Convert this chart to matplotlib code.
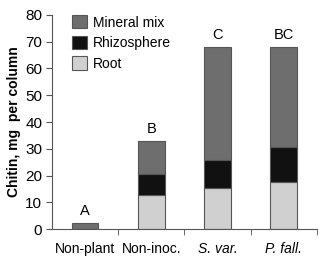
import matplotlib
matplotlib.use("Agg")
import matplotlib.pyplot as plt
import numpy as np

categories = ["Non-plant", "Non-inoc.", "S. var.", "P. fall."]
root = [0.0, 12.7, 15.5, 17.7]
rhizosphere = [0.0, 7.9, 10.5, 13.0]
mineral = [2.3, 12.2, 42.0, 37.3]
letters = ["A", "B", "C", "BC"]

plt.rcParams['font.family'] = ['Liberation Sans', 'DejaVu Sans']

fig = plt.figure(figsize=(3.2, 2.58), dpi=100)
ax = fig.add_axes([0.1625, 0.112, 0.8275, 0.83])

x = np.arange(len(categories))
w = 0.4
ec = "#555555"
b1 = ax.bar(x, root, w, color="#d0d0d0", edgecolor=ec, linewidth=0.8, label="Root")
b2 = ax.bar(x, rhizosphere, w, bottom=root, color="#111111", edgecolor=ec, linewidth=0.8, label="Rhizosphere")
bot2 = np.array(root) + np.array(rhizosphere)
b3 = ax.bar(x, mineral, w, bottom=bot2, color="#6e6e6e", edgecolor=ec, linewidth=0.8, label="Mineral mix")

tot = bot2 + np.array(mineral)
for xi, t, l in zip(x, tot, letters):
    ax.text(xi, t + 1.8, l, ha="center", va="bottom", fontsize=10.5)

ax.set_xlim(-0.5, 3.5)
ax.set_ylim(0, 80)
ax.set_yticks(range(0, 81, 10))
ax.set_xticks(x)
ax.set_xticklabels(categories, fontsize=10)
for lab in ax.get_xticklabels()[2:]:
    lab.set_style("italic")
ax.tick_params(axis="x", length=0, pad=9)
ax.set_xticks([0.5, 1.5, 2.5, 3.5], minor=True)
ax.tick_params(axis="x", which="minor", length=4, color="#555555")
ax.tick_params(axis="y", labelsize=11, length=4, color="#555555", pad=3)
for s in ["top", "right"]:
    ax.spines[s].set_visible(False)
for s in ["left", "bottom"]:
    ax.spines[s].set_color("#555555")

ax.set_ylabel("Chitin, mg  per column", fontsize=10, fontweight="bold", labelpad=3)

ax.legend(handles=[b3, b2, b1], loc="upper left", bbox_to_anchor=(0.055, 1.025),
          frameon=False, fontsize=10, handlelength=1.1, handleheight=1.1,
          handletextpad=0.4, labelspacing=0.45, borderaxespad=0)

fig.savefig("out.png", dpi=100)
